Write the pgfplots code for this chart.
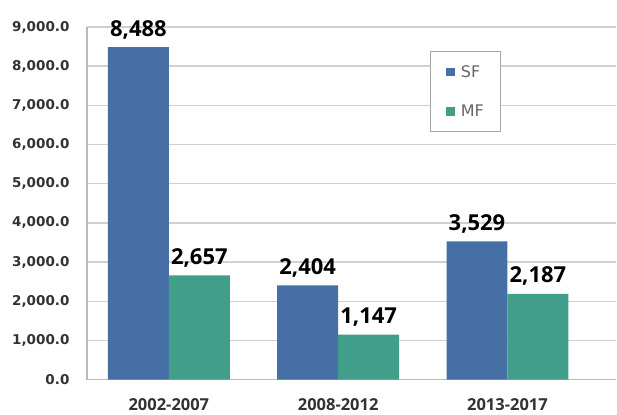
\documentclass[border=0pt]{standalone}
\usepackage{fontspec}
\setmainfont{DejaVu Sans}
\newfontfamily\labfont{Open Sans}
\usepackage{pgfplots}
\pgfplotsset{compat=1.18}
\definecolor{sfblue}{RGB}{70,112,165}
\definecolor{mfteal}{RGB}{64,158,138}
\definecolor{gridgray}{RGB}{208,208,208}
\definecolor{axisgray}{RGB}{185,185,185}
\definecolor{ticktext}{RGB}{50,50,50}
\begin{document}
\begin{tikzpicture}
\begin{axis}[
  name=ax,
  scale only axis, width=530pt, height=353pt,
  ymin=0, ymax=9000, ytick={0,1000,...,9000},
  xmin=-0.484, xmax=2.643,
  xtick={0,1,2}, xticklabels={2002-2007,2008-2012,2013-2017},
  ybar=0pt, bar width=61pt,
  axis lines*=left,
  axis line style={draw=axisgray, line width=1.2pt, -},
  ymajorgrids, grid style={gridgray, line width=1.4pt},
  major tick length=0pt,
  yticklabel style={font=\bfseries\fontsize{13.5}{15}\selectfont, text=ticktext, xshift=-14pt,
    /pgf/number format/fixed, /pgf/number format/fixed zerofill,
    /pgf/number format/precision=1, /pgf/number format/1000 sep={,},
    /pgf/number format/assume math mode=true},
  xticklabel style={font=\labfont\bfseries\fontsize{16.5}{18}\selectfont, text=ticktext, yshift=-15pt},
  nodes near coords={\pgfmathprintnumber[assume math mode=true, 1000 sep={,}]{\pgfplotspointmeta}},
  every node near coord/.append style={font=\labfont\bfseries\fontsize{22}{24}\selectfont, text=black, anchor=base, yshift=11pt},
  legend style={at={(rel axis cs:0.649,0.932)}, anchor=north west, draw=gray!70, line width=0.8pt,
    font=\fontsize{16}{18}\selectfont, text=gray!80!black, row sep=22pt,
    inner xsep=15pt, inner ysep=12pt},
  legend cell align=left,
]
\addplot[fill=sfblue, draw=none, legend image code/.code={\fill[sfblue] (0pt,-4.5pt) rectangle (9pt,4.5pt); \path (13pt,0pt);}]
  coordinates {(0,8488) (1,2404) (2,3529)};
\addplot[fill=mfteal, draw=none, legend image code/.code={\fill[mfteal] (0pt,-4.5pt) rectangle (9pt,4.5pt); \path (13pt,0pt);}]
  coordinates {(0,2657) (1,1147) (2,2187)};
\legend{SF,MF}
\end{axis}
\path (ax.south west) ++(-87pt,-34.5pt) coordinate (bbsw);
\path (ax.north east) ++(0pt,27pt) coordinate (bbne);
\path[use as bounding box] (bbsw) rectangle (bbne);
\end{tikzpicture}
\end{document}
